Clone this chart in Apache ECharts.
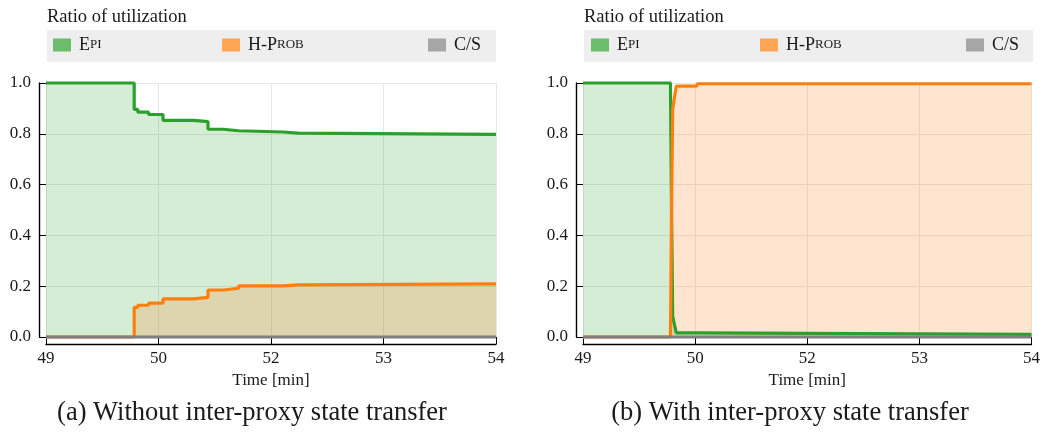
<!DOCTYPE html>
<html><head><meta charset="utf-8">
<script src="https://cdn.jsdelivr.net/npm/echarts/dist/echarts.min.js"></script>
<style>html,body{margin:0;padding:0;background:#fff}#c{width:1043px;height:437px}</style>
</head><body><div id="c"></div>
<script>
// ---- data ----
const seriesNames = ['Epi', 'H-Prob', 'C/S'];
const xTickLabels = ['49', '50', '52', '53', '54'];
const yTickLabels = ['0.0', '0.2', '0.4', '0.6', '0.8', '1.0'];
const timeStart = 49, timeEnd = 54;
const panelTitle = 'Ratio of utilization';
const xAxisTitle = 'Time [min]';
const captions = ['(a) Without inter-proxy state transfer', '(b) With inter-proxy state transfer'];

// panel (a): without inter-proxy state transfer (step changes)
const timeA  = [49, 49.98, 50.02, 50.14, 50.30, 50.64, 50.80, 50.97, 51.14, 51.64, 51.80, 54];
const epiA   = [1.0, 0.896, 0.885, 0.876, 0.853, 0.848, 0.818, 0.812, 0.807, 0.803, 0.798, 0.798];
const hprobA = [0, 0.117, 0.125, 0.133, 0.150, 0.156, 0.185, 0.192, 0.201, 0.205, 0.209, 0.209];
const csTimeA = [49, 54];
const csA     = [0, 0];

// panel (b): with inter-proxy state transfer
const timeB  = [49, 49.975, 49.987, 50.0, 50.04, 50.265, 50.275, 54];
const epiB   = [1.0, 1.0, 0.5, 0.08, 0.016, 0.016, 0.01, 0.01];
const hprobB = [0, 0, 0.5, 0.9, 0.988, 0.988, 0.997, 0.997];
const csTimeB = [49, 54];
const csB     = [0, 0];

// ---- styling ----
const FONT = '"Liberation Serif", "DejaVu Serif", serif';
const TXT = '#1a1a1a';
const lineColors = {'Epi': '#2ca02c', 'H-Prob': '#ff7f0e', 'C/S': '#7f7f7f'};
const legendColors = {'Epi': '#6bbc6b', 'H-Prob': '#ffa556', 'C/S': '#a6a6a6'};
const legendRich = {'Epi': '{s|}{a|E}{b|PI}', 'H-Prob': '{s|}{a|H-P}{b|ROB}', 'C/S': '{s|}{a|C/S}'};

const grids = [
  {left: 46, top: 83, width: 450, height: 254},
  {left: 583, top: 83, width: 450, height: 254}
];

function pairs(ts, vs) { return ts.map((t, k) => [t - timeStart, vs[k]]); }

const xAxes = grids.map((g, i) => ({
  gridIndex: i, type: 'value', min: 0, max: timeEnd - timeStart, interval: 1.25, offset: 7,
  axisLine: {show: true, onZero: false, lineStyle: {color: '#000', width: 1.4}},
  axisTick: {show: true, inside: true, length: 7, lineStyle: {color: '#000', width: 1}},
  axisLabel: {margin: 6, fontSize: 17, color: TXT, fontFamily: FONT,
    formatter: v => xTickLabels[Math.round(v / 1.25)]},
  splitLine: {show: true, lineStyle: {color: '#e6e6e6', width: 1}},
  name: xAxisTitle, nameLocation: 'middle', nameGap: 27,
  nameTextStyle: {fontSize: 17, color: TXT, fontFamily: FONT}
}));
const yAxes = grids.map((g, i) => ({
  gridIndex: i, type: 'value', min: 0, max: 1, interval: 0.2, offset: 7,
  axisLine: {show: true, onZero: false, lineStyle: {color: '#000', width: 1.4}},
  axisTick: {show: true, inside: true, length: 7, lineStyle: {color: '#000', width: 1}},
  axisLabel: {margin: 8, fontSize: 17, color: TXT, fontFamily: FONT,
    formatter: v => yTickLabels[Math.round(v / 0.2)]},
  splitLine: {show: true, lineStyle: {color: '#e6e6e6', width: 1}}
}));

const panels = [
  {step: 'end', data: {'Epi': pairs(timeA, epiA), 'H-Prob': pairs(timeA, hprobA), 'C/S': pairs(csTimeA, csA)}},
  {step: false, data: {'Epi': pairs(timeB, epiB), 'H-Prob': pairs(timeB, hprobB), 'C/S': pairs(csTimeB, csB)}}
];

const series = [];
panels.forEach((p, i) => {
  ['Epi', 'H-Prob'].forEach(n => {
    series.push({name: n, type: 'line', xAxisIndex: i, yAxisIndex: i, step: p.step,
      data: p.data[n], showSymbol: false, symbol: 'none', silent: true, clip: false, z: 2,
      lineStyle: {width: 0, color: lineColors[n]}, itemStyle: {color: lineColors[n]},
      areaStyle: {color: lineColors[n], opacity: 0.2}});
  });
});
panels.forEach((p, i) => {
  seriesNames.forEach(n => {
    series.push({name: n, type: 'line', xAxisIndex: i, yAxisIndex: i, step: p.step,
      data: p.data[n], showSymbol: false, symbol: 'none', silent: true, clip: false, z: 3,
      lineStyle: {width: 3.2, color: lineColors[n]}, itemStyle: {color: lineColors[n]}});
  });
});

const legendLefts = [[53, 222, 428], [591, 760, 966]];
const legends = [];
legendLefts.forEach(row => row.forEach((lx, k) => {
  const n = seriesNames[k];
  legends.push({
    data: [{name: n, icon: 'rect', itemStyle: {color: legendColors[n]}}],
    left: lx, top: 36, padding: 0, itemWidth: 18, itemHeight: 13, selectedMode: false,
    itemStyle: {color: legendColors[n], borderWidth: 0}, lineStyle: {width: 0},
    formatter: name => legendRich[name],
    textStyle: {color: TXT, fontFamily: FONT, rich: {
      s: {width: 3},
      a: {fontSize: 18, fontFamily: FONT, color: TXT},
      b: {fontSize: 13, fontFamily: FONT, color: TXT}
    }}
  });
}));

const graphic = [];
grids.forEach((g, i) => {
  graphic.push({type: 'rect', z: -1, shape: {x: g.left + 1, y: 30, width: 449, height: 32},
    style: {fill: '#eeeeee'}, silent: true});
  graphic.push({type: 'text', x: g.left + 1, y: 17, silent: true,
    style: {text: panelTitle, fill: TXT, font: '18.5px ' + FONT, align: 'left', verticalAlign: 'middle'}});
});
graphic.push({type: 'text', x: 252, y: 413, silent: true,
  style: {text: captions[0], fill: TXT, font: '26.5px ' + FONT, align: 'center', verticalAlign: 'middle'}});
graphic.push({type: 'text', x: 790, y: 413, silent: true,
  style: {text: captions[1], fill: TXT, font: '26.5px ' + FONT, align: 'center', verticalAlign: 'middle'}});

const chart = echarts.init(document.getElementById('c'), null, {renderer: 'canvas'});
chart.setOption({
  animation: false,
  backgroundColor: '#ffffff',
  grid: grids,
  xAxis: xAxes,
  yAxis: yAxes,
  legend: legends,
  graphic: graphic,
  series: series
});
</script></body></html>
